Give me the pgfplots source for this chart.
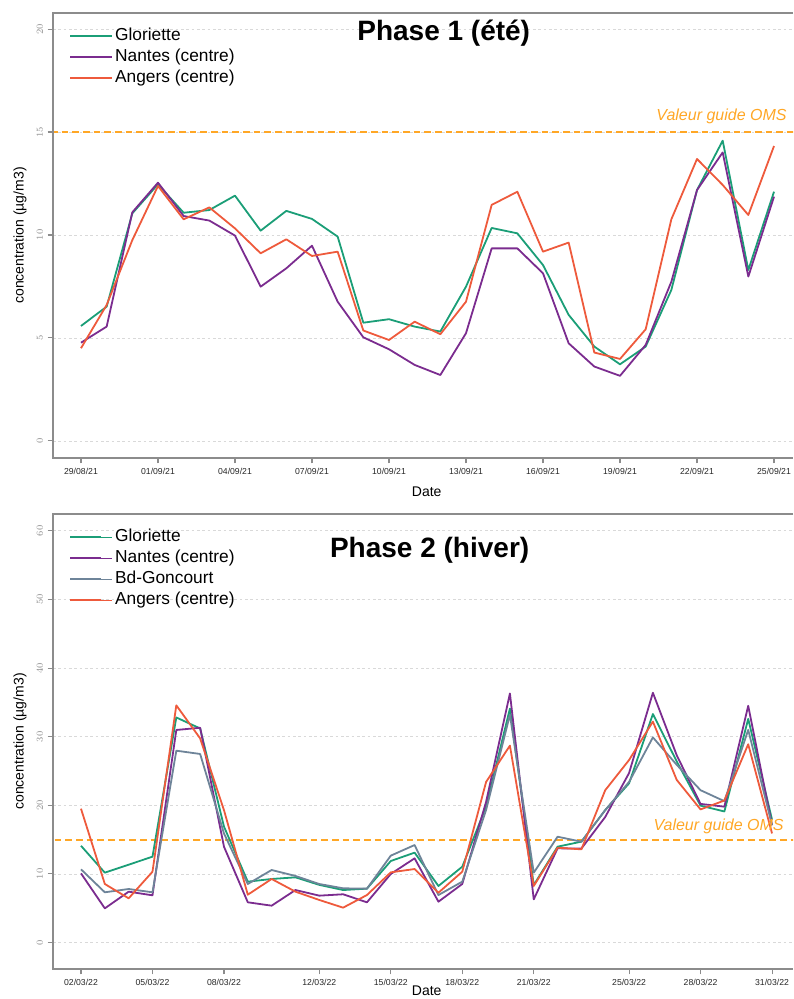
\documentclass[border=0pt]{standalone}
\usepackage{fontspec}
\setmainfont{Liberation Sans}
\usepackage{pgfplots}
\pgfplotsset{compat=1.18}
\usepackage{pgfplotstable}

\definecolor{cgreen}{HTML}{1B9E77}
\definecolor{cpurple}{HTML}{7B2C8F}
\definecolor{cgrey}{HTML}{6E8499}
\definecolor{corange}{HTML}{EE5A3C}
\definecolor{coms}{HTML}{FFA726}
\definecolor{caxis}{HTML}{8C8C8C}

\pgfplotstableread{
i G N A
0 5.58 4.77 4.50
1 6.52 5.55 6.60
2 11.05 11.10 9.75
3 12.46 12.54 12.38
4 11.08 10.92 10.76
5 11.21 10.70 11.34
6 11.91 9.97 10.32
7 10.21 7.49 9.11
8 11.17 8.38 9.79
9 10.78 9.48 8.98
10 9.92 6.76 9.19
11 5.74 5.03 5.36
12 5.91 4.45 4.90
13 5.55 3.69 5.79
14 5.31 3.20 5.18
15 7.49 5.23 6.76
16 10.34 9.35 11.46
17 10.08 9.35 12.10
18 8.54 8.14 9.19
19 6.12 4.74 9.63
20 4.58 3.61 4.29
21 3.72 3.16 3.98
22 4.58 4.66 5.42
23 7.33 7.73 10.76
24 12.18 12.18 13.69
25 14.58 14.01 12.43
26 8.30 7.98 10.97
27 12.10 11.86 14.32
}\topdata

% Gloriette, phase 2 (no value on 04/03)
\pgfplotstableread{
i G
0 14.1
1 10.18
3 12.51
4 32.8
5 31.2
6 16.9
7 8.87
8 9.26
9 9.5
10 8.4
11 7.65
12 7.85
13 11.88
14 13.1
15 8.24
16 11.05
17 19.8
18 34.1
19 8.38
20 13.97
21 14.7
22 19.3
23 23.2
24 33.3
25 26.4
26 19.95
27 19.1
28 32.6
29 17.9
}\botgreen

\pgfplotstableread{
i N B A
0 10.08 10.67 19.5
1 4.98 7.32 8.53
2 7.41 7.8 6.44
3 6.88 7.32 10.32
4 30.98 27.96 34.57
5 31.3 27.48 29.76
6 13.97 15.9 19.3
7 5.86 8.53 6.97
8 5.37 10.57 9.26
9 7.65 9.7 7.41
10 6.83 8.53 6.2
11 7.03 7.9 5.08
12 5.86 7.85 6.92
13 9.99 12.66 10.23
14 12.27 14.21 10.71
15 5.95 6.92 7.26
16 8.53 8.87 10.32
17 20.5 19.3 23.4
18 36.3 33.2 28.7
19 6.29 10.18 8.24
20 13.73 15.42 13.82
21 13.7 14.7 13.58
22 18.3 19.3 22.2
23 24.7 23.4 26.6
24 36.4 29.9 32.2
25 27.3 25.9 23.7
26 20.2 22.2 19.4
27 19.8 20.6 20.7
28 34.5 31.0 28.9
29 17.1 17.1 15.9
}\botdata

\tikzset{
  sline/.style={line width=1.35pt, line join=round},
}

\pgfplotsset{
  common/.style={
    scale only axis, width=555pt,
    axis line style={draw=none},
    xtick pos=bottom, ytick pos=left,
    tick align=outside, major tick length=4pt,
    tick style={caxis, line width=0.8pt},
    ymajorgrids,
    major grid style={gray!30, line width=0.6pt, dash pattern=on 2pt off 2pt},
    xticklabel style={font=\fontsize{6.5}{7}\selectfont, text=black!85},
    yticklabel style={rotate=90, anchor=south, font=\fontsize{7}{8}\selectfont, text=caxis},
    ylabel={concentration (µg/m3)},
    ylabel style={font=\fontsize{10.5}{12}\selectfont, at={(axis description cs:0,0.5)}, anchor=center, yshift=24.75pt},
    legend cell align=left,
    legend image code/.code={\draw[#1, line width=1.5pt] (0pt,0pt) -- (23pt,0pt); \path (0pt,0pt) -- (31pt,0pt);},
    legend style={draw=none, fill=none, inner sep=0pt, row sep=0pt,
      font=\fontsize{13}{15}\selectfont,
      nodes={inner ysep=1.5pt, text height=9.5pt, text depth=3.25pt},
      anchor=north west},
    after end axis/.code={\draw[caxis, line width=0.9pt] (rel axis cs:1,1) -- (rel axis cs:0,1) -- (rel axis cs:0,0) -- (rel axis cs:1,0);},
  }
}

\begin{document}
\begin{tikzpicture}
\path[use as bounding box] (0pt,0pt) rectangle (594.75pt,749.25pt);

% ---------- Phase 1 ----------
\begin{axis}[common,
  at={(39.75pt,405.75pt)}, anchor=south west,
  height=333.75pt,
  xmin=-1.09, xmax=27.74, ymin=-0.83, ymax=20.78,
  xtick={0,3,6,9,12,15,18,21,24,27},
  xticklabels={29/08/21,01/09/21,04/09/21,07/09/21,10/09/21,13/09/21,16/09/21,19/09/21,22/09/21,25/09/21},
  ytick={0,5,10,15,20},
  xlabel={Date},
  xlabel style={font=\fontsize{10.5}{12}\selectfont, at={(axis description cs:0.505,0)}, anchor=center, yshift=-25.5pt},
  legend style={at={(rel axis cs:0.0216,0.972)}},
]
\addplot[coms, line width=1.4pt, dash pattern=on 5pt off 3pt, forget plot] coordinates {(-2,15) (30,15)};
\addplot[cgreen, sline] table[x=i, y=G] {\topdata};
\addlegendentry{Gloriette}
\addplot[cpurple, sline] table[x=i, y=N] {\topdata};
\addlegendentry{Nantes (centre)}
\addplot[corange, sline] table[x=i, y=A] {\topdata};
\addlegendentry{Angers (centre)}
\node[anchor=east, inner sep=0pt, text=coms, font=\itshape\fontsize{12}{14}\selectfont] at (axis cs:27.5,15.75) {Valeur guide OMS};
\node[font=\bfseries\fontsize{21}{24}\selectfont] at (rel axis cs:0.528,0.955) {Phase 1 (été)};
\end{axis}

% ---------- Phase 2 ----------
\begin{axis}[common,
  at={(39.75pt,22.5pt)}, anchor=south west,
  height=341.25pt,
  xmin=-1.175, xmax=29.88, ymin=-3.86, ymax=62.46,
  xtick={0,3,6,10,13,16,19,23,26,29},
  xticklabels={02/03/22,05/03/22,08/03/22,12/03/22,15/03/22,18/03/22,21/03/22,25/03/22,28/03/22,31/03/22},
  ytick={0,10,20,30,40,50,60},
  xlabel={Date},
  xlabel style={font=\fontsize{10.5}{12}\selectfont, at={(axis description cs:0.505,0)}, anchor=center, yshift=-16.5pt},
  legend style={at={(rel axis cs:0.0216,0.972)}},
]
\addplot[coms, line width=1.4pt, dash pattern=on 5pt off 3pt, forget plot] coordinates {(-2,15) (31,15)};
\addplot[cgreen, sline] table[x=i, y=G] {\botgreen};
\addlegendentry{Gloriette}
\addplot[cpurple, sline] table[x=i, y=N] {\botdata};
\addlegendentry{Nantes (centre)}
\addplot[cgrey, sline] table[x=i, y=B] {\botdata};
\addlegendentry{Bd-Goncourt}
\addplot[corange, sline] table[x=i, y=A] {\botdata};
\addlegendentry{Angers (centre)}
\node[anchor=east, inner sep=0pt, text=coms, font=\itshape\fontsize{12}{14}\selectfont] at (axis cs:29.5,16.9) {Valeur guide OMS};
\node[font=\bfseries\fontsize{21}{24}\selectfont] at (rel axis cs:0.509,0.921) {Phase 2 (hiver)};
\end{axis}
\end{tikzpicture}
\end{document}
